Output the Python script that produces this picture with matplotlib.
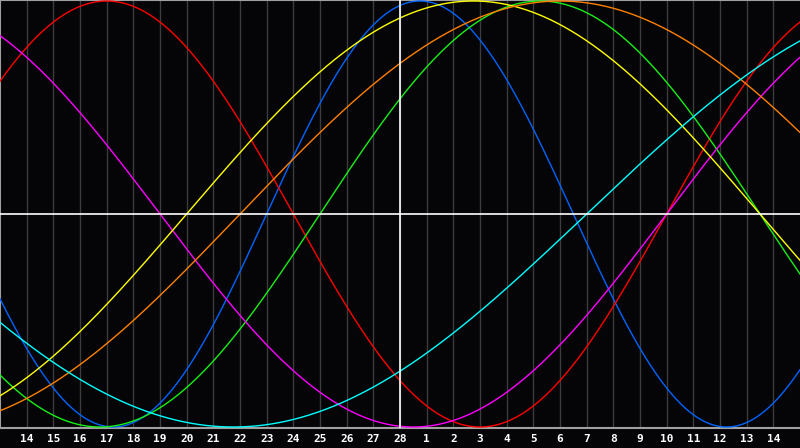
import numpy as np
import matplotlib
matplotlib.use("Agg")
import matplotlib.pyplot as plt

# ---- data ----
day_labels = [14, 15, 16, 17, 18, 19, 20, 21, 22, 23, 24, 25, 26, 27, 28,
              1, 2, 3, 4, 5, 6, 7, 8, 9, 10, 11, 12, 13, 14]
cycle_names = ["Physical", "Emotional", "Intellectual", "Intuitive",
               "Aesthetic", "Awareness", "Spiritual"]
cycle_periods = [23, 28, 33, 38, 43, 48, 53]
cycle_colors = ["#0064ff", "#ff0000", "#16f016", "#ff00ff",
                "#ffff00", "#ff8000", "#00ffff"]
days_since_birth_at_start = 14871
today_index = 15

# ---- figure ----
fig = plt.figure(figsize=(8, 4.48), dpi=100, facecolor="#050508")
ax = fig.add_axes([0, 1 - 428 / 448, 1, 428 / 448])
ax.set_facecolor("#050508")

n_days = len(day_labels) + 1
t = np.linspace(0, n_days, 1200)
for name, period, color in zip(cycle_names, cycle_periods, cycle_colors):
    y = np.sin(2 * np.pi * (days_since_birth_at_start + t) / period)
    ax.plot(t, y, color=color, lw=1.0, zorder=3, label=name)

positions = np.arange(1, len(day_labels) + 1)
for p in positions:
    ax.axvline(p, color="#3c3c3c", lw=1.0, zorder=1)
ax.axvline(today_index, color="#ffffff", lw=1.2, zorder=4)
ax.axhline(0, color="#ffffff", lw=1.2, zorder=4)

ax.set_xlim(0, n_days)
ax.set_ylim(-214 / 213, 214 / 213)
ax.set_yticks([])
ax.set_xticks(positions)
ax.set_xticklabels([str(d) for d in day_labels], color="white",
                   fontfamily="DejaVu Sans Mono", fontweight="bold", fontsize=8)
ax.tick_params(axis="x", length=0, pad=4)

for s in ["left", "top", "bottom"]:
    ax.spines[s].set_color("#a0a0a0")
    ax.spines[s].set_linewidth(1.5)
ax.spines["right"].set_visible(False)

fig.savefig("out.png", dpi=100, facecolor=fig.get_facecolor())
